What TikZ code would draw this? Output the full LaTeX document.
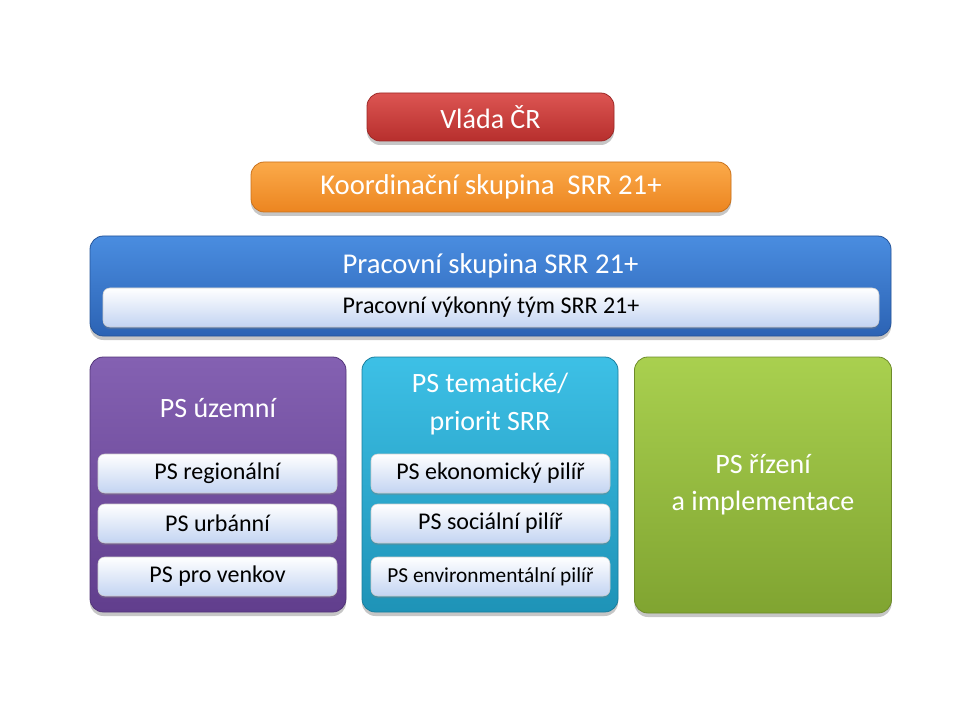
\documentclass[tikz,border=0pt]{standalone}
\usepackage{fontspec}
\setmainfont[Ligatures=NoCommon]{Carlito}
\usetikzlibrary{shadows}
\definecolor{redtop}{HTML}{DC5552}
\definecolor{redbot}{HTML}{B72F2D}
\definecolor{orgtop}{HTML}{FBAA4A}
\definecolor{orgbot}{HTML}{EC8520}
\definecolor{blutop}{HTML}{4A8DE0}
\definecolor{blubot}{HTML}{2C63B4}
\definecolor{purtop}{HTML}{8461B2}
\definecolor{purbot}{HTML}{613E8D}
\definecolor{cyatop}{HTML}{3DC0E6}
\definecolor{cyabot}{HTML}{1E93B7}
\definecolor{gretop}{HTML}{A9D04F}
\definecolor{grebot}{HTML}{80A431}
\definecolor{subbot}{HTML}{C3D4F2}
\begin{document}
\begin{tikzpicture}[x=0.75pt,y=-0.75pt,
    box/.style 2 args={rounded corners=10pt,minimum width=#1*0.75pt,minimum height=#2*0.75pt,inner sep=0pt,
        line width=0.6pt,drop shadow={shadow xshift=0pt,shadow yshift=-3pt,opacity=0.45}},
    subbox/.style 2 args={rounded corners=5pt,minimum width=#1*0.75pt,minimum height=#2*0.75pt,inner sep=0pt,
        draw=white!60!gray,line width=0.4pt,top color=white,bottom color=subbot,
        drop shadow={shadow xshift=0pt,shadow yshift=-1.5pt,opacity=0.35},font=\fontsize{18}{20}\selectfont},
    big/.style={text=white,align=center,font=\fontsize{#1}{27.5}\selectfont},
    big/.default=21]
    \useasboundingbox (0,0) rectangle (960,720);
    % upper part
    \node[box={247}{48},top color=redtop,bottom color=redbot,draw=redbot!85!black,big] (vlada) at (490.5,117) {Vláda ČR};
    \node[box={480}{50},top color=orgtop,bottom color=orgbot,draw=orgbot!85!black,big=21.5] (koord) at (491,187) {Koordinační skupina~ SRR 21+};
    \node[box={801}{100},top color=blutop,bottom color=blubot,draw=blubot!85!black] (prac) at (490.5,286) {};
    \node[big=21.5] (pracT) at (490.5,265.5) {Pracovní skupina SRR 21+};
    \node[subbox={776}{39}] (tym) at (491,307.5) {Pracovní výkonný tým SRR 21+};
    % columns
    \node[box={256}{255},top color=purtop,bottom color=purbot,draw=purbot!85!black] (uzemni) at (218,484.5) {};
    \node[big] (uzemniT) at (218,408) {PS územní};
    \node[subbox={239}{39}] (region) at (217.5,473.5) {PS regionální};
    \node[subbox={239}{39}] (urban) at (217.5,523.5) {PS urbánní};
    \node[subbox={239}{39}] (venkov) at (217.5,576.5) {PS pro venkov};
    \node[box={256}{255},top color=cyatop,bottom color=cyabot,draw=cyabot!85!black] (tema) at (490,484.5) {};
    \node[big,font=\fontsize{21}{28.5}\selectfont] (temaT) at (490,404) {PS tematické/\\priorit SRR};
    \node[subbox={239}{39}] (ekon) at (490.5,473.5) {PS ekonomický pilíř};
    \node[subbox={239}{39}] (soc) at (490.5,523.5) {PS sociální pilíř};
    \node[subbox={239}{39},font=\fontsize{16}{18}\selectfont] (env) at (490.5,576.5) {PS environmentální pilíř};
    \node[box={257}{256},top color=gretop,bottom color=grebot,draw=grebot!85!black,big] (rizeni) at (763,485) {PS řízení\\a implementace};
\end{tikzpicture}
\end{document}
